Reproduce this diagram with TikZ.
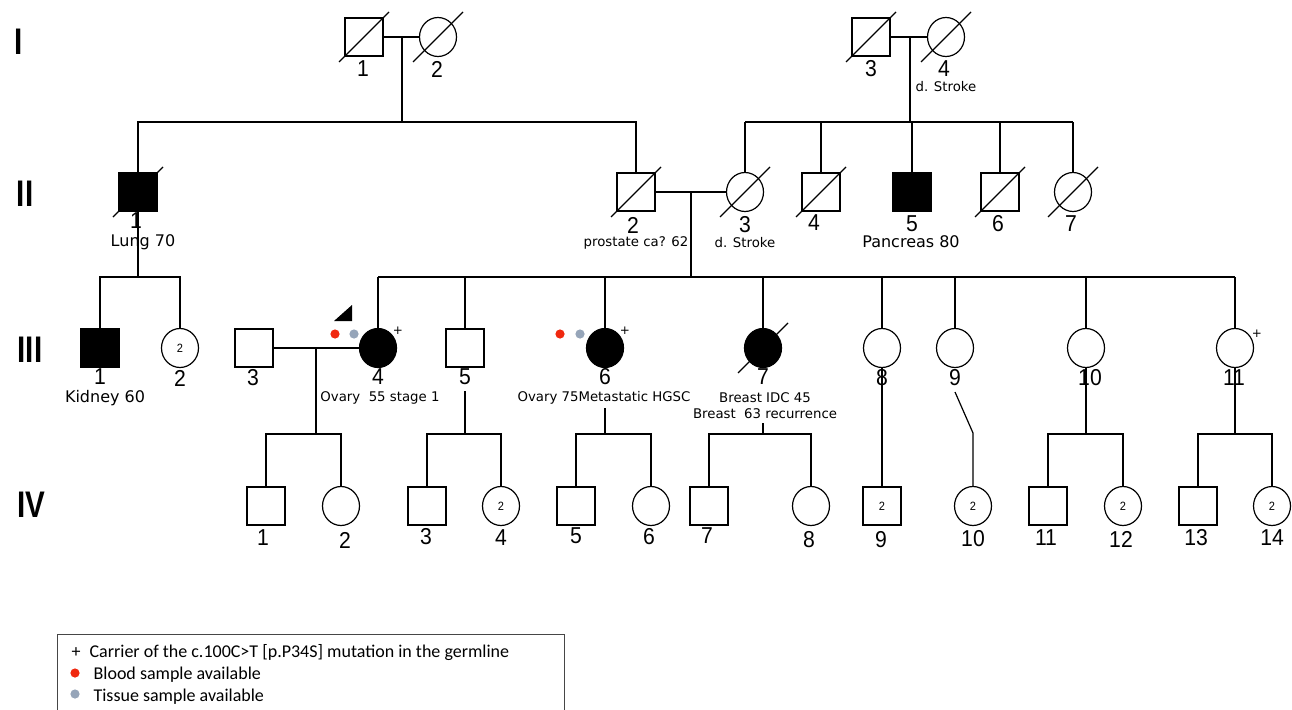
\documentclass[tikz,border=0pt]{standalone}
\usepackage{fontspec}
\setmainfont{Liberation Sans}
\newfontfamily\numfam[FakeStretch=0.92]{Liberation Sans}
\newfontfamily\romfam[FakeStretch=0.8]{Liberation Sans Bold}
\newfontfamily\labfam{DejaVu Sans}
\newfontfamily\legfam{Carlito}
\usetikzlibrary{shapes.geometric}
\definecolor{bloodred}{RGB}{240,40,15}
\definecolor{tissuegrey}{RGB}{150,165,185}
\definecolor{legframe}{RGB}{70,70,70}
\newcommand\deceased[1]{\draw (#1.center) ++(-25,25) -- ++(50,-50);}
\begin{document}
\begin{tikzpicture}[x=1pt,y=-1pt,line width=1.2pt,
  male/.style={draw,rectangle,minimum size=38pt,inner sep=0pt},
  female/.style={draw,ellipse,minimum width=37pt,minimum height=39pt,inner sep=0pt},
  aff/.style={fill=black},
  inum/.style={font=\numfam\fontsize{12}{12}\selectfont},
  num/.style={inner sep=0pt,font=\numfam\fontsize{23}{23}\selectfont},
  roman/.style={inner sep=0pt,font=\romfam\fontsize{37}{37}\selectfont},
  biglab/.style={inner sep=0pt,font=\labfam\fontsize{16}{18}\selectfont},
  smalllab/.style={inner sep=0pt,font=\labfam\fontsize{13.3}{15}\selectfont},
  plus/.style={inner sep=0pt,font=\labfam\fontsize{12}{12}\selectfont},
  legtext/.style={inner sep=0pt,anchor=west,font=\legfam\fontsize{18}{20}\selectfont},
  dotred/.style={fill=bloodred,draw=none},
  dotgrey/.style={fill=tissuegrey,draw=none}]
\useasboundingbox (0,0) rectangle (1292,709);
\clip (0,0) rectangle (1292,709);
\fill[white] (0,0) rectangle (1292,709);

% generation labels
\node[roman] (gI) at (19,42) {I};
\node[roman] (gII) at (25,194) {II};
\node[roman] (gIII) at (30,350) {III};
\node[roman] (gIV) at (31,505) {IV};

% ---------- Generation I ----------
\node[male] (I1) at (364,37) {};
\node[female] (I2) at (438,37) {};
\node[male] (I3) at (871,37) {};
\node[female] (I4) at (946,37) {};
\deceased{I1}\deceased{I2}\deceased{I3}\deceased{I4}
\node[num] (nI1) at (363,69) {1};
\node[num] (nI2) at (437,69) {2};
\node[num] (nI3) at (871,69) {3};
\node[num] (nI4) at (944,69) {4};
\node[smalllab] (lI4) at (946,87) {d. Stroke};

% ---------- Generation II ----------
\node[male,aff] (II1) at (138,192) {};
\node[male] (II2) at (636,192) {};
\node[female] (II3) at (745,192) {};
\node[male] (II4) at (821,192) {};
\node[male,aff] (II5) at (912,192) {};
\node[male] (II6) at (1000,192) {};
\node[female] (II7) at (1073,192) {};
\deceased{II1}\deceased{II2}\deceased{II3}\deceased{II4}\deceased{II6}\deceased{II7}

% connectors I -> II
\coordinate (m12) at (402,37);
\coordinate (s12) at (402,122);
\draw (I1.east) -- (I2.west);
\draw (m12) -- (s12);
\draw (II1.north) |- (s12) -| (II2.north);
\coordinate (m34) at (910,37);
\coordinate (s34) at (910,122);
\draw (I3.east) -- (I4.west);
\draw (m34) -- (s34);
\draw (II3.north |- s34) -- (II7.north |- s34);
\foreach \c in {II3,II4,II5,II6,II7} \draw (\c.north) -- (\c.north |- s34);

% ---------- Generation III ----------
\node[male,aff] (III1) at (100,348) {};
\node[female] (III2) at (180,348) {};
\node[male] (III3) at (254,348) {};
\node[female,aff] (III4) at (378,348) {};
\node[male] (III5) at (465,348) {};
\node[female,aff] (III6) at (605,348) {};
\node[female,aff] (III7) at (763,348) {};
\node[female] (III8) at (882,348) {};
\node[female] (III9) at (955,348) {};
\node[female] (III10) at (1086,348) {};
\node[female] (III11) at (1235,348) {};
\deceased{III7}

% connectors II -> III
\coordinate (s1) at (138,277);
\draw (II1.south) -- (s1);
\draw (III1.north) |- (s1) -| (III2.north);
\coordinate (m23) at (691,192);
\coordinate (s23) at (691,277);
\draw (II2.east) -- (II3.west);
\draw (m23) -- (s23);
\draw (III4.north |- s23) -- (III11.north |- s23);
\foreach \c in {III4,III5,III6,III7,III8,III9,III10,III11} \draw (\c.north) -- (\c.north |- s23);

% markers gen III
\fill (334,321) -- (352,321) -- (352,305) -- cycle;
\fill[dotred] (335,334) circle (4.6);
\fill[dotgrey] (354,334) circle (4.6);
\fill[dotred] (560,334) circle (4.6);
\fill[dotgrey] (580,334) circle (4.6);
\node[plus] (p4) at (398,331) {+};
\node[plus] (p6) at (625,331) {+};
\node[plus] (p11) at (1257,334) {+};

% ---------- Generation IV ----------
\node[male] (IV1) at (266,506) {};
\node[female] (IV2) at (341,506) {};
\node[male] (IV3) at (427,506) {};
\node[female] (IV4) at (501,506) {};
\node[male] (IV5) at (576,506) {};
\node[female] (IV6) at (651,506) {};
\node[male] (IV7) at (709,506) {};
\node[female] (IV8) at (811,506) {};
\node[male] (IV9) at (882,506) {};
\node[female] (IV10) at (973,506) {};
\node[male] (IV11) at (1048,506) {};
\node[female] (IV12) at (1123,506) {};
\node[male] (IV13) at (1198,506) {};
\node[female] (IV14) at (1272,506) {};
\foreach \c in {III2,IV4,IV9,IV10,IV12,IV14} \node[inum] at (\c.center) {2};

% connectors III -> IV
\coordinate (mIII34) at (316,348);
\coordinate (sIII34) at (316,434);
\draw (III3.east) -- (III4.west);
\draw (mIII34) -- (sIII34);
\draw (IV1.north) |- (sIII34) -| (IV2.north);
\coordinate (d5) at (465,391);
\coordinate (s5) at (465,434);
\draw (d5) -- (s5);
\draw (IV3.north) |- (s5) -| (IV4.north);
\coordinate (d6) at (605,408);
\coordinate (s6) at (605,434);
\draw (d6) -- (s6);
\draw (IV5.north) |- (s6) -| (IV6.north);
\coordinate (d7) at (763,423);
\coordinate (s7) at (763,434);
\draw (d7) -- (s7);
\draw (IV7.north) |- (s7) -| (IV8.north);
\draw (III8.south) -- (IV9.north);
\coordinate (k9a) at (955,392);
\coordinate (k9b) at (973,433);
\draw (k9a) -- (k9b) -- (IV10.north);
\coordinate (s10) at (1086,434);
\draw (III10.south) -- (s10);
\draw (IV11.north) |- (s10) -| (IV12.north);
\coordinate (s11) at (1235,434);
\draw (III11.south) -- (s11);
\draw (IV13.north) |- (s11) -| (IV14.north);

% ---------- numbers and labels ----------
\node[num] (nII1) at (136,221) {1};
\node[biglab] (lII1) at (143,242) {Lung 70};
\node[num] (nII2) at (633,225) {2};
\node[smalllab] (lII2) at (636,243) {prostate ca? 62};
\node[num] (nII3) at (745,225) {3};
\node[smalllab] (lII3) at (745,243) {d. Stroke};
\node[num] (nII4) at (814,223) {4};
\node[num] (nII5) at (912,224) {5};
\node[biglab] (lII5) at (911,242) {Pancreas 80};
\node[num] (nII6) at (998,224) {6};
\node[num] (nII7) at (1071,224) {7};

\node[num] (nIII1) at (100,377) {1};
\node[biglab] (lIII1) at (105,398) {Kidney 60};
\node[num] (nIII2) at (180,378) {2};
\node[num] (nIII3) at (253,378) {3};
\node[num] (nIII4) at (378,377) {4};
\node[smalllab] (lIII4) at (380,398) {Ovary\ \ 55 stage 1};
\node[num] (nIII5) at (465,377) {5};
\node[num] (nIII6) at (605,377) {6};
\node[smalllab] (lIII6) at (604,398) {Ovary 75Metastatic HGSC};
\node[num] (nIII7) at (763,377) {7};
\node[smalllab] (lIII7a) at (765,398) {Breast IDC 45};
\node[smalllab] (lIII7b) at (765,414) {Breast\ \ 63 recurrence};
\node[num] (nIII8) at (882,378) {8};
\node[num] (nIII9) at (955,378) {9};
\node[num] (nIII10) at (1090,378) {10};
\node[num] (nIII11) at (1234,378) {11};

\node[num] (nIV1) at (263,538) {1};
\node[num] (nIV2) at (345,540) {2};
\node[num] (nIV3) at (426,537) {3};
\node[num] (nIV4) at (501,538) {4};
\node[num] (nIV5) at (576,536) {5};
\node[num] (nIV6) at (649,537) {6};
\node[num] (nIV7) at (707,536) {7};
\node[num] (nIV8) at (809,540) {8};
\node[num] (nIV9) at (881,540) {9};
\node[num] (nIV10) at (973,539) {10};
\node[num] (nIV11) at (1046,538) {11};
\node[num] (nIV12) at (1121,539) {12};
\node[num] (nIV13) at (1196,538) {13};
\node[num] (nIV14) at (1272,538) {14};

% ---------- legend ----------
\draw[legframe,line width=1pt] (57,634) rectangle (564,740);
\node[inner sep=0pt,font=\legfam\fontsize{18}{20}\selectfont] (lgplus) at (76,653) {+};
\node[legtext] (lg1) at (89,653) {Carrier of the c.100C>T [p.P34S] mutation in the germline};
\fill[dotred] (75,673) circle (4.6);
\node[legtext] (lg2) at (93,675) {Blood sample available};
\fill[dotgrey] (75,694) circle (4.6);
\node[legtext] (lg3) at (93,697) {Tissue sample available};
\end{tikzpicture}
\end{document}
